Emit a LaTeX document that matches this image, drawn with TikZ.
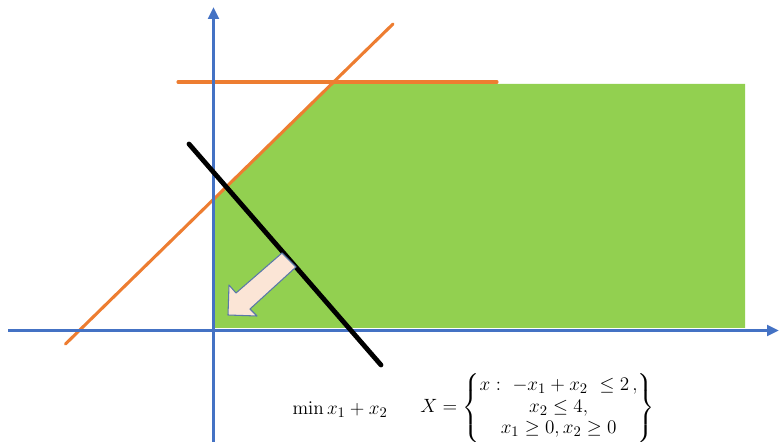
\documentclass[tikz,border=0pt]{standalone}
\usepackage{amsmath}
\usetikzlibrary{arrows.meta}
\definecolor{axisblue}{HTML}{4472C4}
\definecolor{bndorange}{HTML}{ED7D31}
\definecolor{feasgreen}{HTML}{92D050}
\definecolor{dirfill}{HTML}{FBE5D6}
\definecolor{diredge}{HTML}{5A78A8}
\begin{document}
\begin{tikzpicture}[x=0.75pt, y=-0.75pt,
  axis/.style={draw=axisblue, line width=2.2pt, -{Triangle[length=9pt,width=8pt]}},
  bound/.style={draw=bndorange, line width=2.3pt, line cap=round},
  level/.style={draw=black, line width=3.6pt, line cap=round},
  dirarrow/.style={draw=diredge, fill=dirfill, line width=0.8pt, line join=round},
  formula/.style={font=\fontsize{15.5}{16}\selectfont, inner sep=0pt}
]
\useasboundingbox (0,0) rectangle (779,442);

% feasible set
\fill[feasgreen] (213,328) -- (213,199) -- (331.5,84) -- (745,84) -- (745,328) -- cycle;

% constraint lines
\coordinate (c1a) at (65.5,344);
\coordinate (c1b) at (393,24);
\coordinate (c2a) at (178,82);
\coordinate (c2b) at (497,82);
\draw[bound] (c1a) -- (c1b);
\draw[bound] (c2a) -- (c2b);

% axes
\coordinate (xs) at (8,330.5);
\coordinate (xe) at (779,330.5);
\coordinate (ys) at (213.5,442);
\coordinate (ye) at (213.5,7);
\draw[axis] (xs) -- (xe);
\draw[axis] (ys) -- (ye);

% level line of the objective
\coordinate (l1) at (189,144);
\coordinate (l2) at (381,365);
\draw[level] (l1) -- (l2);

% descent direction
\draw[dirarrow] (282,253) -- (296,267) -- (250,309) -- (257,316) -- (228,315)
  -- (229,285) -- (236,293) -- cycle;

\node[formula] (obj) at (340,410) {$\min x_1 + x_2$};
\node[formula, anchor=west] (set) at (420,408)
  {$X = \left\{\begin{matrix} x:\ -x_1 + x_2\ \le 2\,, \\ x_2 \le 4, \\ x_1 \ge 0, x_2 \ge 0 \end{matrix}\right\}$};
\end{tikzpicture}
\end{document}
